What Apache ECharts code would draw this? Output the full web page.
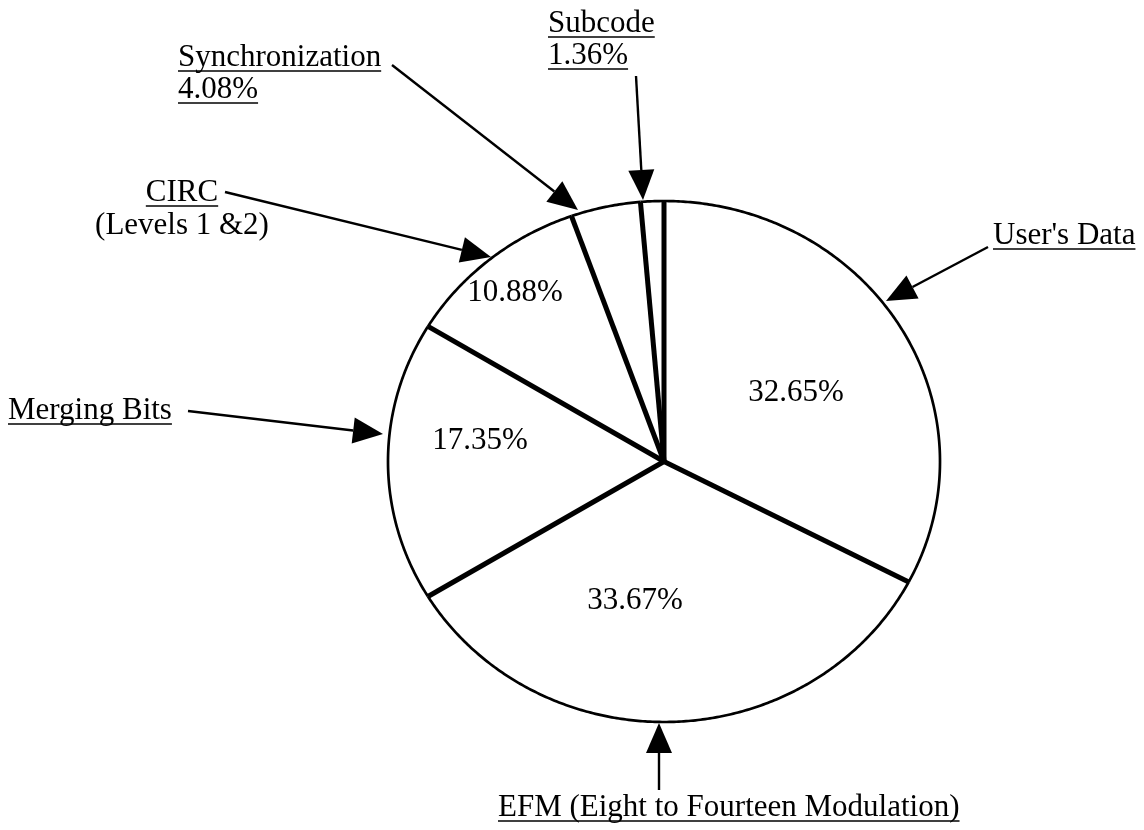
<!DOCTYPE html>
<html><head><meta charset="utf-8">
<script src="https://cdn.jsdelivr.net/npm/echarts@6/dist/echarts.min.js"></script>
<style>html,body{margin:0;padding:0;background:#fff}#c{width:1144px;height:830px}</style>
</head><body><div id="c"></div>
<script>
// ---- data ----
const categories = ["User's Data", "EFM (Eight to Fourteen Modulation)", "Merging Bits", "CIRC", "Synchronization", "Subcode"];
const values = [32.65, 33.67, 17.35, 10.88, 4.08, 1.36];
const subtitles = ["", "", "", "(Levels 1 &2)", "", ""];
const valueInside = [true, true, true, true, false, false];

// ---- layout / style ----
const ELLIPSE = {left: 388, top: 201, width: 552, height: 521};
const FONT_SIZE = 31;
const FONT_FAMILY = '"Liberation Serif", "Times New Roman", Times, serif';
const FONT = FONT_SIZE + 'px ' + FONT_FAMILY;
const BASE_SHIFT = 9.5;               // baseline offset from 'middle'
const innerLabelCenter = [[796, 392], [635, 600], [480, 440], [515, 292]];
const notes = [
  {idx: 5, x: 548, align: 'left',   base: [33, 65],   ul: [true, true],  from: [636, 76],  to: [643, 200]},
  {idx: 4, x: 178, align: 'left',   base: [67, 99],   ul: [true, true],  from: [392, 65],  to: [578, 210]},
  {idx: 3, x: 182, align: 'center', base: [202, 235], ul: [true, false], from: [225, 192], to: [491, 257]},
  {idx: 0, x: 993, align: 'left',   base: [245],      ul: [true],        from: [988, 247], to: [886, 301]},
  {idx: 2, x: 8,   align: 'left',   base: [420],      ul: [true],        from: [188, 411], to: [383, 434]},
  {idx: 1, x: 498, align: 'left',   base: [817],      ul: [true],        from: [659, 790], to: [659, 723]}
];

const fmt = v => v.toFixed(2) + '%';
const total = values.reduce((a, b) => a + b, 0);
const starts = [];
values.reduce((acc, v, i) => { starts[i] = acc; return acc + v; }, 0);
const sliceData = values.map((v, i) => [starts[i], starts[i] + v]);
const boundaryData = starts.map(s => [s]);

const mctx = document.createElement('canvas').getContext('2d');
function textWidth(s) { mctx.font = FONT; return mctx.measureText(s).width; }

function renderSlice(params, api) {
  const a0 = api.value(0) / total * 2 * Math.PI;
  const a1 = api.value(1) / total * 2 * Math.PI;
  const c = api.coord([0, 0]);
  const n = Math.max(2, Math.ceil((a1 - a0) / (Math.PI / 360)));
  const arc = [];
  for (let k = 0; k <= n; k++) {
    const t = a0 + (a1 - a0) * k / n;
    arc.push(api.coord([Math.sin(t), Math.cos(t)]));
  }
  return {type: 'group', children: [
    {type: 'polygon', shape: {points: [c].concat(arc)}, style: {fill: '#fff', stroke: null}},
    {type: 'polyline', shape: {points: arc}, style: {fill: null, stroke: '#000', lineWidth: 2.7}}
  ]};
}
function renderBoundary(params, api) {
  const a = api.value(0) / total * 2 * Math.PI;
  const c = api.coord([0, 0]);
  const e = api.coord([Math.sin(a), Math.cos(a)]);
  return {type: 'line', shape: {x1: c[0], y1: c[1], x2: e[0], y2: e[1]},
          style: {stroke: '#000', lineWidth: 5, lineCap: 'butt'}};
}

const graphics = [];
function addText(str, x, baseline, align) {
  graphics.push({type: 'text', z: 100, style: {text: str, x: x, y: baseline - BASE_SHIFT, font: FONT, fill: '#000',
    align: align, verticalAlign: 'middle'}});
}
function addArrow(from, to) {
  const dx = to[0] - from[0], dy = to[1] - from[1];
  const len = Math.hypot(dx, dy), ux = dx / len, uy = dy / len;
  const L = 30, W = 13;
  const bx = to[0] - ux * L, by = to[1] - uy * L;
  graphics.push({type: 'line', z: 100, shape: {x1: from[0], y1: from[1], x2: bx, y2: by}, style: {stroke: '#000', lineWidth: 2.4}});
  graphics.push({type: 'polygon', z: 100, shape: {points: [to, [bx - uy * W, by + ux * W], [bx + uy * W, by - ux * W]]}, style: {fill: '#000'}});
}
notes.forEach(nt => {
  const lines = [categories[nt.idx]];
  if (subtitles[nt.idx]) lines.push(subtitles[nt.idx]);
  else if (!valueInside[nt.idx]) lines.push(fmt(values[nt.idx]));
  lines.forEach((s, j) => {
    addText(s, nt.x, nt.base[j], nt.align);
    if (nt.ul[j]) {
      const w = textWidth(s);
      const x0 = nt.align === 'center' ? nt.x - w / 2 : nt.x;
      graphics.push({type: 'line', z: 100, shape: {x1: x0, y1: nt.base[j] + 4, x2: x0 + w, y2: nt.base[j] + 4}, style: {stroke: '#000', lineWidth: 1.5}});
    }
  });
  addArrow(nt.from, nt.to);
});
let k = 0;
values.forEach((v, i) => {
  if (valueInside[i]) { const p = innerLabelCenter[k++]; addText(fmt(v), p[0], p[1] + 1 + BASE_SHIFT, 'center'); }
});

const chart = echarts.init(document.getElementById('c'), null, {renderer: 'canvas'});
chart.setOption({
  backgroundColor: '#fff',
  animation: false,
  grid: ELLIPSE,
  xAxis: {type: 'value', min: -1, max: 1, show: false},
  yAxis: {type: 'value', min: -1, max: 1, show: false},
  series: [
    {type: 'custom', name: 'slices', coordinateSystem: 'cartesian2d', clip: false, renderItem: renderSlice,
     data: sliceData, encode: {x: [], y: []}, z: 2},
    {type: 'custom', name: 'boundaries', coordinateSystem: 'cartesian2d', clip: false, renderItem: renderBoundary,
     data: boundaryData, encode: {x: [], y: []}, z: 3}
  ],
  graphic: graphics
});
</script></body></html>
